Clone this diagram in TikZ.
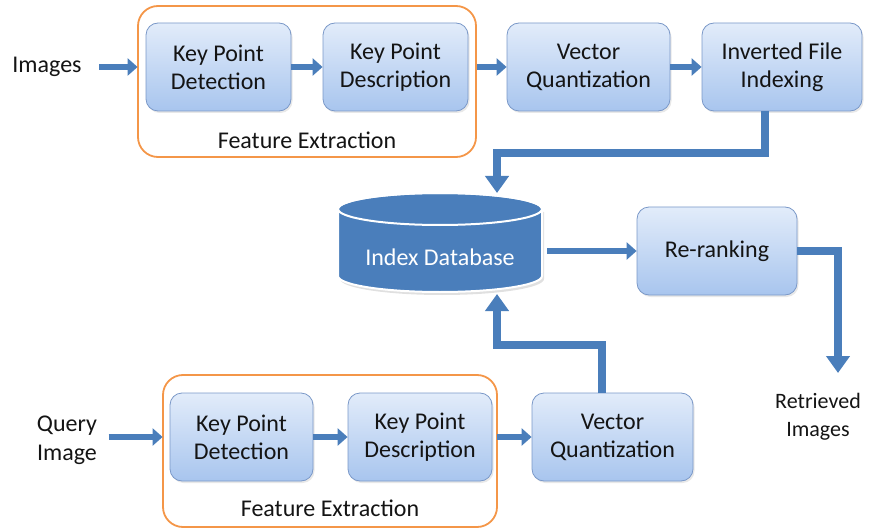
\documentclass[tikz,border=0pt]{standalone}
\usepackage{fontspec}
\setmainfont{Carlito}
\usetikzlibrary{arrows.meta,shadows}
\definecolor{boxtop}{RGB}{226,236,250}
\definecolor{boxbot}{RGB}{168,197,238}
\definecolor{boxborder}{RGB}{122,152,200}
\definecolor{arrowblue}{RGB}{74,126,187}
\definecolor{dbblue}{RGB}{74,126,187}
\definecolor{orangeline}{RGB}{244,150,72}
\begin{document}
\begin{tikzpicture}[x=1pt,y=-1pt,
  box/.style={draw=boxborder, line width=0.8pt, rounded corners=12pt,
    top color=boxtop, bottom color=boxbot, minimum height=88pt,
    align=center, font=\fontsize{24}{28}\selectfont, inner sep=2pt, text=black!92,
    drop shadow={opacity=0.18, shadow xshift=1.5pt, shadow yshift=-2pt}},
  lbl/.style={font=\fontsize{24}{29}\selectfont, align=center, text=black!92},
  group/.style={draw=orangeline, line width=1.8pt, rounded corners=20pt, inner sep=0pt},
  small/.style={draw=arrowblue, line width=6.5pt, -{Triangle[length=10pt,width=17pt]}},
  big/.style={draw=arrowblue, line width=7.5pt, -{Triangle[length=17pt,width=23pt]}}
]
\useasboundingbox (0,0) rectangle (874,529);

% top row
\node[group, minimum width=338pt, minimum height=151pt] (fe1) at (307,81.5) {};
\node[lbl] (fe1l) at (307,140) {Feature Extraction};
\node[box, minimum width=145pt] (kpd1) at (218.5,67) {Key Point\\Detection};
\node[box, minimum width=145pt] (kpds1) at (395.5,67) {Key Point\\Description};
\node[box, minimum width=163pt] (vq1) at (588.5,67) {Vector\\Quantization};
\node[box, minimum width=160pt] (ifi) at (782,67) {Inverted File\\Indexing};
\node[lbl] (img) at (47,67) {Images};

% database
\node[minimum width=204pt, minimum height=99pt, inner sep=0pt] (db) at (440,242.5) {};
\fill[black, opacity=0.12] (340,212) -- (340,279) arc (180:0:102 and 16) -- (544,212) -- cycle;
\filldraw[fill=dbblue, draw=white, line width=2pt]
  (338,209) -- (338,276) arc (180:0:102 and 16) -- (542,209) arc (0:-180:102 and 16) -- cycle;
\draw[white, line width=2pt] (440,209) ellipse [x radius=102, y radius=16];
\node[font=\fontsize{24}{28}\selectfont, text=white] (dbl) at (440,257) {Index Database};
\coordinate (dbtop) at (497,193);
\coordinate (dbbot) at (497,294);

% re-ranking
\node[box, minimum width=160pt] (rr) at (717,251) {Re-ranking};
\node[font=\fontsize{22}{28}\selectfont, align=center, text=black!92] (ret) at (818,417) {Retrieved\\Images};

% bottom row
\node[group, minimum width=334pt, minimum height=152pt] (fe2) at (330,451) {};
\node[lbl] (fe2l) at (330,508) {Feature Extraction};
\node[box, minimum width=143pt] (kpd2) at (241.5,437) {Key Point\\Detection};
\node[box, minimum width=144pt] (kpds2) at (420,437) {Key Point\\Description};
\node[box, minimum width=161pt] (vq2) at (612.5,437) {Vector\\Quantization};
\node[lbl] (qimg) at (67,440) {Query\\Image};

% bend points
\coordinate (ifiout) at (765,111);
\coordinate (t1) at (765,153);
\coordinate (t2) at (497,153);
\coordinate (r1) at (838,251);
\coordinate (retend) at (838,373);
\coordinate (vqout) at (602,393);
\coordinate (b1) at (602,345);
\coordinate (b2) at (497,345);

% arrows top
\draw[small, shorten <=14pt, shorten >=8pt] (img.east) -- (kpd1.west);
\draw[small] (kpd1.east) -- (kpds1.west);
\draw[small, shorten <=9pt] (kpds1.east) -- (vq1.west);
\draw[small] (vq1.east) -- (ifi.west);
\draw[big] (ifiout) -- (t1) -- (t2) -- (dbtop);
% db to rr
\draw[small, shorten <=5pt] (db.east |- rr.west) -- (rr.west);
\draw[big] (rr.east) -- (r1) -- (retend);
% bottom arrows
\draw[small, shorten <=8pt, shorten >=7pt] (qimg.east |- kpd2.west) -- (kpd2.west);
\draw[small] (kpd2.east) -- (kpds2.west);
\draw[small, shorten <=5pt] (kpds2.east) -- (vq2.west);
\draw[big] (vqout) -- (b1) -- (b2) -- (dbbot);
\end{tikzpicture}
\end{document}
